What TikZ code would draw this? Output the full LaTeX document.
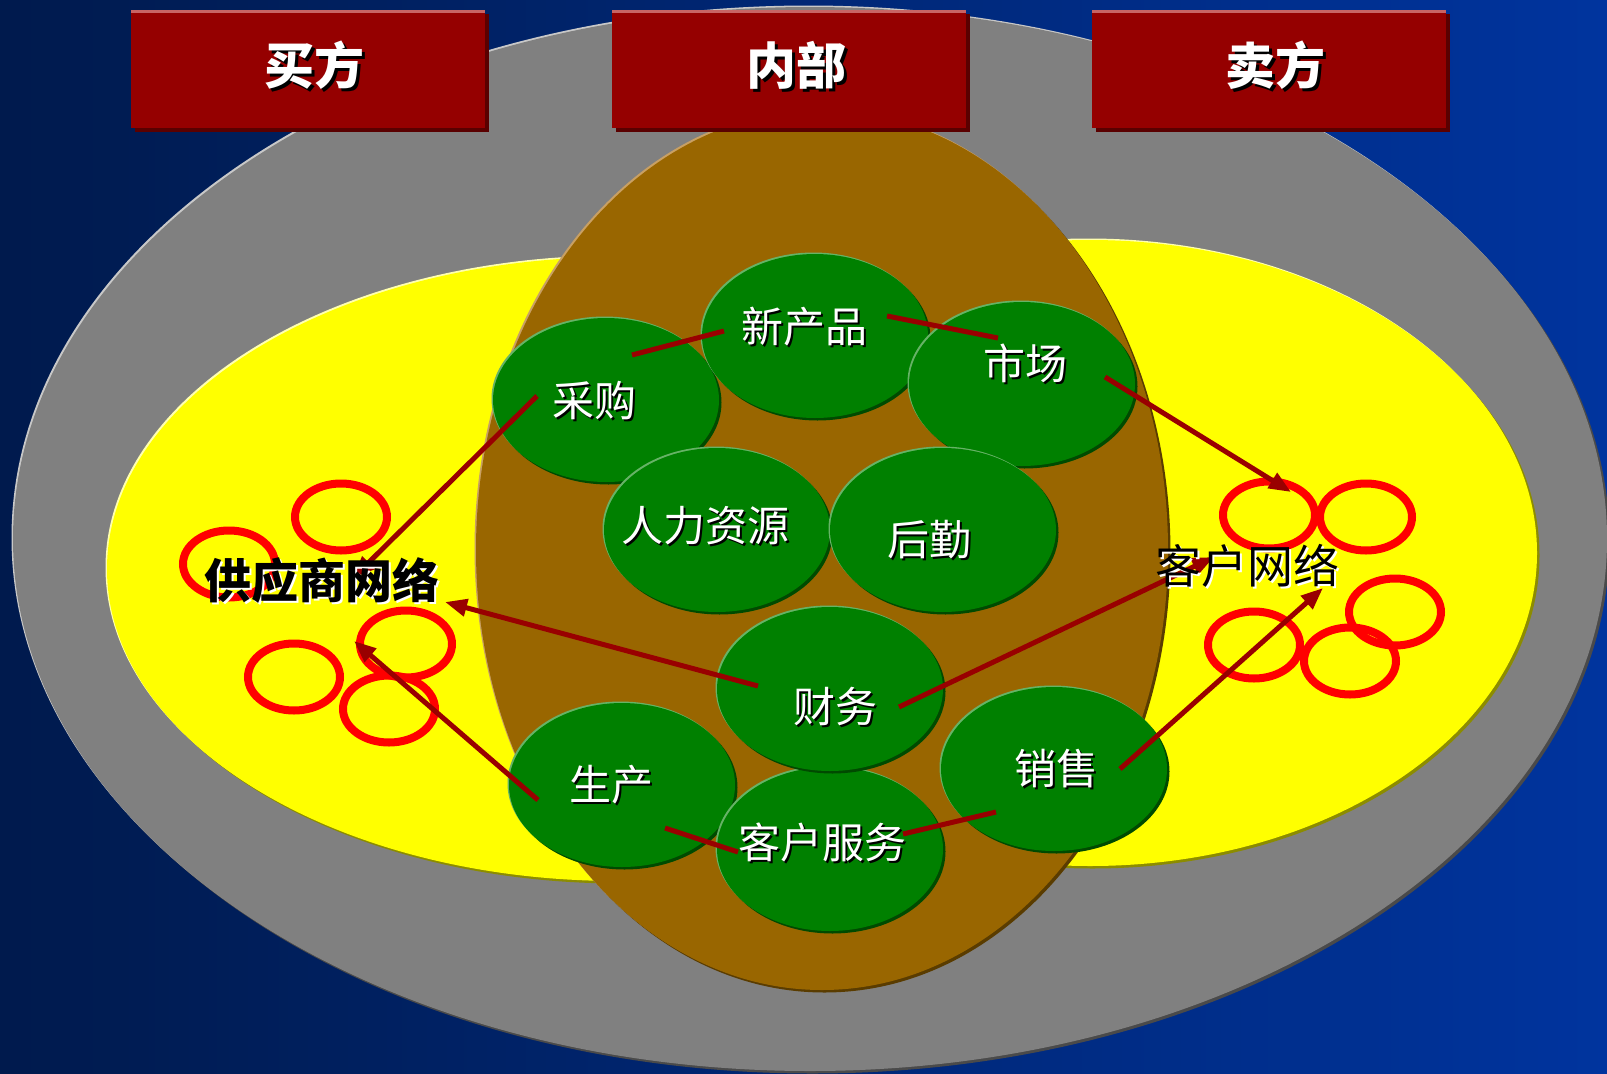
\documentclass[tikz,border=0pt]{standalone}
\usepackage{fontspec}
\newfontfamily\cjk{Noto Sans CJK SC}
\usetikzlibrary{arrows.meta,shapes.geometric}
\definecolor{bgL}{HTML}{001A4D}
\definecolor{bgR}{HTML}{00349E}
\definecolor{grayF}{HTML}{808080}
\definecolor{grayL}{HTML}{C8C8C8}
\definecolor{grayD}{HTML}{4A4A4A}
\definecolor{yelF}{HTML}{FFFF00}
\definecolor{yelL}{HTML}{FFFFB0}
\definecolor{yelD}{HTML}{8C8C00}
\definecolor{brnF}{HTML}{996600}
\definecolor{brnL}{HTML}{C9A063}
\definecolor{brnD}{HTML}{5A3C00}
\definecolor{grnF}{HTML}{008000}
\definecolor{grnL}{HTML}{66B366}
\definecolor{grnD}{HTML}{004A00}
\definecolor{boxR}{HTML}{950000}
\definecolor{boxD}{HTML}{5A0000}
\definecolor{boxT}{HTML}{C86464}
\definecolor{lineR}{HTML}{990000}
\definecolor{ringR}{HTML}{FF0000}
\newcommand{\shtxt}[3]{\leavevmode\rlap{\kern#3\raisebox{-#3}{\color{#1}#2}}#2}
\begin{document}
\begin{tikzpicture}[x=1pt,y=-1pt,
  rim/.style 2 args={preaction={fill=#2, transform canvas={shift={(2.5,2.5)}}},
                     preaction={fill=#1, transform canvas={shift={(-1.5,-1.5)}}}},
  greenell/.style={ellipse, minimum width=226pt, minimum height=164pt, inner sep=0pt,
                   fill=grnF, rim={grnL}{grnD}},
  ring/.style={ellipse, minimum width=92pt, minimum height=67pt, inner sep=0pt,
               draw=ringR, line width=8pt},
  tbox/.style={rectangle, fill=boxR, minimum width=354pt, minimum height=118pt, inner sep=0pt,
               preaction={fill=boxD, transform canvas={shift={(4,4)}}}},
  ttl/.style={font=\cjk\bfseries\fontsize{50}{50}\selectfont, text=white, inner sep=0pt},
  lab/.style={font=\cjk\fontsize{42}{42}\selectfont, text=white, inner sep=0pt},
  netlab/.style={font=\cjk\fontsize{46}{46}\selectfont, text=black, inner sep=0pt},
  conn/.style={draw=lineR, line width=5pt},
  arr/.style={conn, -{Triangle[length=22pt,width=17pt]}}]
\useasboundingbox (0,0) rectangle (1607,1074);
\shade[left color=bgL,right color=bgR] (0,0) rectangle (1607,1074);
% big ellipses
\path[fill=grayF, rim={grayL}{grayD}] (810,539) ellipse [x radius=797pt, y radius=532pt];
\path[fill=yelF, rim={yelL}{yelD}] (618,569) ellipse [x radius=511pt, y radius=312pt];
\path[fill=yelF, rim={yelL}{yelD}] (1090,553) ellipse [x radius=447pt, y radius=313pt];
\path[fill=brnF, rim={brnL}{brnD}] (822,550) ellipse [x radius=346pt, y radius=440pt];
% title boxes
\node[tbox] (b1) at (308,69) {};
\node[tbox] (b2) at (789,69) {};
\node[tbox] (b3) at (1269,69) {};
\foreach \b in {b1,b2,b3}{
  \fill[boxT] (\b.north west) rectangle ([yshift=-3pt]\b.north east);
}
\node[ttl] (t1) at (314,67) {\shtxt{black}{买方}{3pt}};
\node[ttl] (t2) at (796,67) {\shtxt{black}{内部}{3pt}};
\node[ttl] (t3) at (1275,67) {\shtxt{black}{卖方}{3pt}};
% rings
\node[ring] (l1) at (341,517) {};
\node[ring] (l2) at (229,564) {};
\node[ring] (l3) at (406,644) {};
\node[ring] (l4) at (294,677) {};
\node[ring] (l5) at (389,709) {};
\node[ring] (r1) at (1269,515) {};
\node[ring] (r2) at (1366,517) {};
\node[ring] (r3) at (1395,612) {};
\node[ring] (r4) at (1254,645) {};
\node[ring] (r5) at (1350,661) {};
% green ellipses
\node[greenell] (cg) at (606,400) {};
\node[greenell] (xcp) at (815,336) {};
\node[greenell] (sc) at (1022,384) {};
\node[greenell] (rl) at (717,530) {};
\node[greenell] (hq) at (943,530) {};
\node[greenell] (sca) at (622,785) {};
\node[greenell] (kf) at (830,849) {};
\node[greenell] (cw) at (830,689) {};
\node[greenell] (xs) at (1054,769) {};
% connector end points
\coordinate (cgS) at (537,396);  \coordinate (cgE) at (353,578);
\coordinate (scS) at (1105,377); \coordinate (scE) at (1291,492);
\coordinate (cwL) at (758,686);  \coordinate (cwLE) at (445,602);
\coordinate (cwR) at (899,707);  \coordinate (cwRE) at (1214,557);
\coordinate (scaS) at (538,800); \coordinate (scaE) at (354,641);
\coordinate (xsS) at (1120,769); \coordinate (xsE) at (1323,588);
\coordinate (p1) at (632,355);   \coordinate (p2) at (724,331);
\coordinate (p3) at (887,316);   \coordinate (p4) at (998,338);
\coordinate (p5) at (665,828);   \coordinate (p6) at (738,852);
\coordinate (p7) at (903,834);   \coordinate (p8) at (996,812);
\draw[conn] (p1) -- (p2);
\draw[conn] (p3) -- (p4);
\draw[conn] (p5) -- (p6);
\draw[conn] (p7) -- (p8);
\draw[arr] (cgS) -- (cgE);
\draw[arr] (scS) -- (scE);
\draw[arr] (cwL) -- (cwLE);
\draw[arr] (cwR) -- (cwRE);
\draw[arr] (scaS) -- (scaE);
\draw[arr] (xsS) -- (xsE);
% labels
\node[lab] (tcg) at (594,402) {\shtxt{black}{采购}{2pt}};
\node[lab] (txcp) at (804,328) {\shtxt{black}{新产品}{2pt}};
\node[lab] (tsc) at (1025,364) {\shtxt{black}{市场}{2pt}};
\node[lab] (trl) at (705,527) {\shtxt{black}{人力资源}{2pt}};
\node[lab] (thq) at (929,541) {\shtxt{black}{后勤}{2pt}};
\node[lab] (tcw) at (835,707) {\shtxt{black}{财务}{2pt}};
\node[lab] (tsca) at (611,786) {\shtxt{black}{生产}{2pt}};
\node[lab] (tkf) at (822,843) {\shtxt{black}{客户服务}{2pt}};
\node[lab] (txs) at (1056,770) {\shtxt{black}{销售}{2pt}};
\node[netlab, font=\cjk\bfseries\fontsize{47}{47}\selectfont] (gys) at (322,582) {\shtxt{white}{供应商网络}{2pt}};
\node[netlab] (khw) at (1247,567) {\shtxt{white}{客户网络}{2pt}};
\end{tikzpicture}
\end{document}
